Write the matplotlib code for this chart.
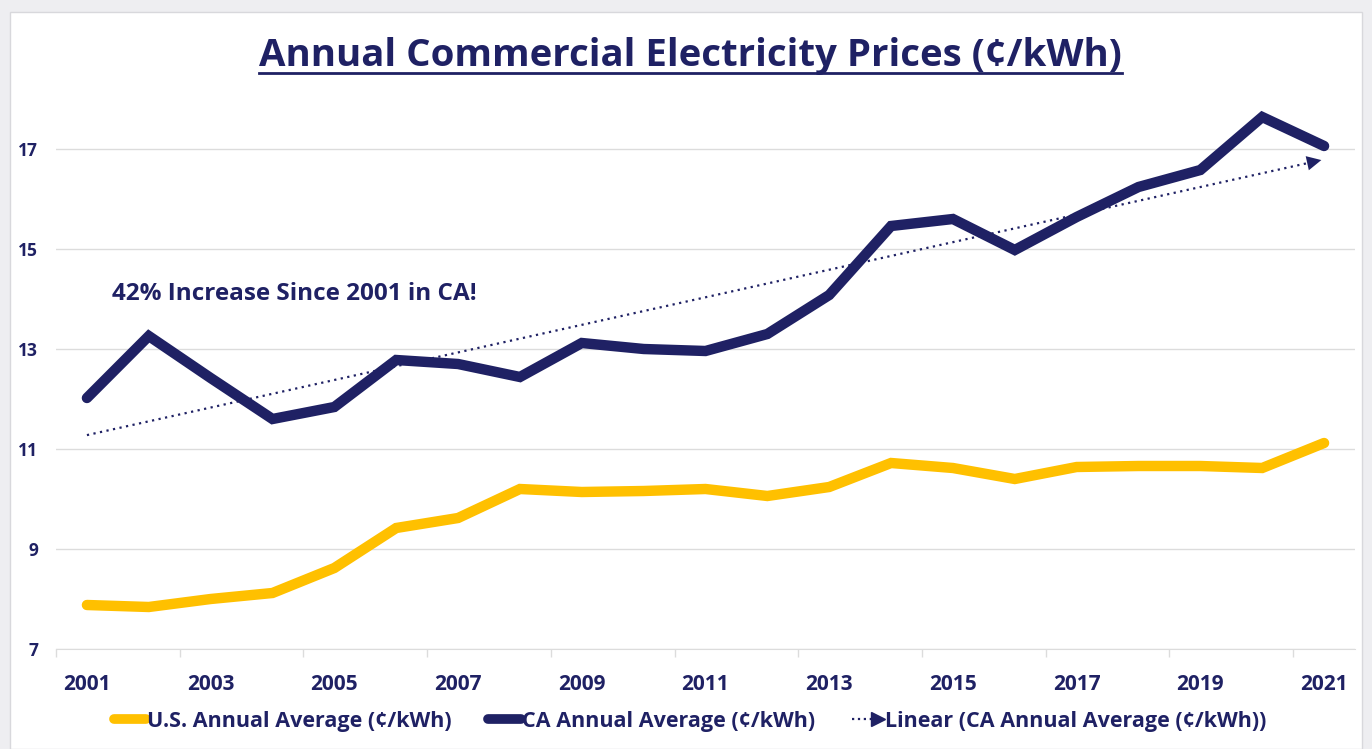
import numpy as np
import matplotlib.pyplot as plt
from matplotlib.lines import Line2D
from matplotlib.patches import Rectangle
from matplotlib.legend_handler import HandlerBase

# data
years = list(range(2001, 2022))
ca_avg = [12.02, 13.26, 12.42, 11.60, 11.84, 12.78, 12.70, 12.44, 13.12, 13.00, 12.96,
          13.30, 14.08, 15.46, 15.60, 14.98, 15.64, 16.24, 16.58, 17.64, 17.06]
us_avg = [7.88, 7.84, 8.00, 8.12, 8.62, 9.42, 9.62, 10.20, 10.14, 10.16, 10.20,
          10.06, 10.24, 10.72, 10.62, 10.40, 10.64, 10.66, 10.66, 10.62, 11.12]
y_ticks = [7, 9, 11, 13, 15, 17]

NAVY = '#1f2164'
GOLD = '#ffc000'
GRID = '#dcdcdc'

plt.rcParams['font.family'] = ['Open Sans', 'DejaVu Sans']


class ArrowHandler(HandlerBase):
    """legend handle: dotted line ending in a triangle"""
    def create_artists(self, legend, orig_handle, xdescent, ydescent,
                       width, height, fontsize, trans):
        y = height / 2 - ydescent
        line = Line2D([-xdescent, width - xdescent - 6], [y, y], ls=':', lw=1.6, color=NAVY)
        tri = Line2D([width - xdescent - 4], [y], marker='>', ms=10, ls='none', color=NAVY)
        line.set_transform(trans)
        tri.set_transform(trans)
        return [line, tri]


fig = plt.figure(figsize=(13.72, 7.49), dpi=100, facecolor='#eeeef1')
# white card behind the chart
fig.patches.append(Rectangle((10 / 1372, 0), 1352 / 1372, 737 / 749, transform=fig.transFigure,
                             facecolor='white', edgecolor='#d8d8dc', lw=1, zorder=-5))

ax = fig.add_axes([56 / 1372, 1 - 649 / 749, 1299 / 1372, 570 / 749])
ax.set_facecolor('none')

x = np.arange(len(years))
ax.plot(x, us_avg, color=GOLD, lw=7.5, solid_capstyle='round', solid_joinstyle='miter', zorder=3)
ax.plot(x, ca_avg, color=NAVY, lw=7.5, solid_capstyle='round', solid_joinstyle='miter', zorder=4)

# linear trend of CA series
k, b = np.polyfit(x, ca_avg, 1)
trend = k * x + b
ax.plot(x[:-1].tolist() + [x[-1] - 0.2], trend[:-1].tolist() + [trend[-1] - 0.2 * k],
        color=NAVY, lw=1.6, ls=(0, (1, 2)), zorder=5)
ax.annotate('', xy=(x[-1], trend[-1]), xytext=(x[-1] - 0.3, trend[-1] - 0.3 * k),
            arrowprops=dict(arrowstyle='-|>', color=NAVY, lw=0, mutation_scale=26), zorder=5)

ax.text(0.4, 14.1, '42% Increase Since 2001 in CA!', fontsize=17.5, fontweight='bold',
        color=NAVY, va='center', ha='left')

ax.set_xlim(-0.5, len(years) - 0.5)
ax.set_ylim(7, 18.4)
ax.set_yticks(y_ticks)
ax.set_xticks(x[::2])
ax.set_xticklabels([str(yv) for yv in years[::2]])
ax.set_xticks(np.arange(-0.5, len(years), 2), minor=True)
ax.tick_params(axis='x', which='major', length=0, pad=18, labelsize=15, labelcolor=NAVY)
ax.tick_params(axis='x', which='minor', length=6, color=GRID, width=1)
ax.tick_params(axis='y', length=0, pad=13, labelsize=12.5, labelcolor=NAVY)
for lbl in ax.get_xticklabels() + ax.get_yticklabels():
    lbl.set_fontweight('bold')

ax.grid(axis='y', color=GRID, lw=1)
ax.set_axisbelow(True)
for side in ['top', 'right', 'left']:
    ax.spines[side].set_visible(False)
ax.spines['bottom'].set_color(GRID)

title = fig.text(0.5035, 1 - 56 / 749, 'Annual Commercial Electricity Prices (¢/kWh)',
                 ha='center', va='center', fontsize=27.6, fontweight='bold', color=NAVY)
# underline for the title, sized to the text
fig.canvas.draw()
bb = title.get_window_extent().transformed(fig.transFigure.inverted())
fig.add_artist(Line2D([bb.x0, bb.x1], [1 - 73 / 749, 1 - 73 / 749],
                      transform=fig.transFigure, color=NAVY, lw=2))

h_us = Line2D([], [], color=GOLD, lw=7, solid_capstyle='round')
h_ca = Line2D([], [], color=NAVY, lw=7, solid_capstyle='round')
h_tr = object()
leg = fig.legend([h_us, h_ca, h_tr],
                 ['U.S. Annual Average (¢/kWh)', 'CA Annual Average (¢/kWh)',
                  'Linear (CA Annual Average (¢/kWh))'],
                 handler_map={h_tr: ArrowHandler()},
                 loc='center', bbox_to_anchor=(0.503, 1 - 721 / 749), ncol=3, frameon=False,
                 handlelength=1.5, handletextpad=0.05, columnspacing=1.7,
                 prop={'size': 15.5, 'weight': 'bold'})
for t in leg.get_texts():
    t.set_color(NAVY)

fig.savefig('out.png', dpi=100, facecolor=fig.get_facecolor())
